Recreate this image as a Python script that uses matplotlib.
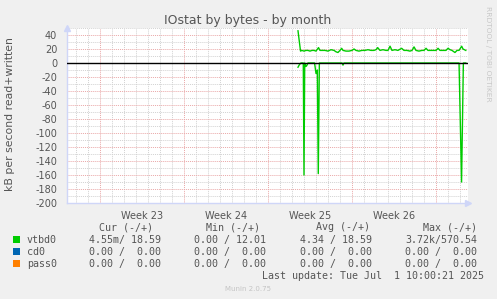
import numpy as np
import matplotlib
matplotlib.use("Agg")
import matplotlib.pyplot as plt
from matplotlib.patches import Rectangle

# data: x in days from left edge of the month window
week_starts = [2.75, 9.75, 16.75, 23.75, 30.75]
week_labels = ["Week 23", "Week 24", "Week 25", "Week 26"]

written_x = [19.25, 19.38, 19.46, 19.58, 19.75, 19.92, 20.08, 20.25, 20.42, 20.58,
             20.75, 20.96, 21.08, 21.25, 21.5, 21.75, 22.0, 22.25, 22.42, 22.58,
             22.75, 22.89, 23.0, 23.25, 23.5, 23.75, 23.92, 24.08, 24.33, 24.58,
             24.83, 25.08, 25.33, 25.58, 25.75, 25.89, 26.08, 26.33, 26.58, 26.75,
             26.92, 27.08, 27.33, 27.58, 27.89, 28.08, 28.33, 28.58, 28.75, 28.92,
             29.08, 29.33, 29.58, 29.75, 29.92, 30.08, 30.33, 30.58, 30.75, 30.92,
             31.08, 31.33, 31.58, 31.75, 31.92, 32.08, 32.33, 32.5, 32.67, 32.89,
             33.0, 33.23]
written_y = [46, 28, 17, 18, 17, 18, 18, 17, 18, 18,
             17, 22, 18, 18, 18, 17, 19, 18, 16, 15,
             18, 21, 18, 17, 17, 18, 20, 18, 17, 18,
             18, 19, 18, 18, 19, 22, 18, 19, 18, 18,
             24, 18, 19, 18, 21, 18, 18, 17, 18, 23,
             18, 17, 18, 18, 21, 18, 18, 18, 18, 21,
             18, 18, 18, 21, 19, 18, 15, 18, 18, 24,
             20, 18]

read_x = [19.25, 19.38, 19.5, 19.69, 19.75, 19.81, 19.89, 19.97, 20.08, 20.63,
          20.75, 20.86, 20.94, 21.03, 22.92, 23.0, 23.08, 32.67, 32.88, 33.03, 33.23]
read_y = [-6, -2, 0, 0, -160, 0, -5, -4, 0, 0,
          -15, -10, -158, 0, 0, -3, 0, 0, -170, 0, 0]

legend_names = ["vtbd0", "cd0", "pass0"]
legend_colors = ["#00CC00", "#0066B3", "#FF8000"]
cur_vals = ["4.55m/ 18.59", "0.00 /  0.00", "0.00 /  0.00"]
min_vals = ["0.00 / 12.01", "0.00 /  0.00", "0.00 /  0.00"]
avg_vals = ["4.34 / 18.59", "0.00 /  0.00", "0.00 /  0.00"]
max_vals = ["3.72k/570.54", "0.00 /  0.00", "0.00 /  0.00"]

W, H = 497, 299
fig = plt.figure(figsize=(W / 100, H / 100), dpi=100, facecolor="#F0F0F0")


def fx(x):
    return x / W


def fy(y):
    return 1 - y / H


# plot canvas 67..468 x, 28..203 y (pixels)
ax = fig.add_axes([fx(67), fy(203), (468 - 67) / W, (203 - 28) / H])
ax.set_facecolor("white")
ax.set_xlim(0, 401 / 12)
ax.set_ylim(-200, 50)

# grid
minor_col = "#d2d2d2"
major_col = "#eaa8a8"
dot = (0, (1, 1))
for v in np.arange(-190, 51, 10):
    if v % 20 != 0:
        ax.axhline(v, color=minor_col, lw=0.7, ls=dot, zorder=0)
for d in np.arange(0.75, 401 / 12, 1.0):
    if not any(abs(d - w) < 0.01 for w in week_starts):
        ax.axvline(d, color=minor_col, lw=0.7, ls=dot, zorder=0)
for v in np.arange(-200, 41, 20):
    ax.axhline(v, color=major_col, lw=0.7, ls=dot, zorder=1)
for w in week_starts:
    ax.axvline(w, color=major_col, lw=0.7, ls=dot, zorder=1)

# data
ax.plot(written_x, written_y, color="#00CC00", lw=1.0, zorder=3)
ax.plot(read_x, read_y, color="#00CC00", lw=1.0, zorder=3)
ax.axhline(0, color="black", lw=1.0, zorder=4)

# axes look
for s in ["top", "right"]:
    ax.spines[s].set_visible(False)
for s in ["left", "bottom"]:
    ax.spines[s].set_color("#CFD6F8")
    ax.spines[s].set_linewidth(1.0)
ax.set_yticks(np.arange(-200, 41, 20))
ax.set_yticklabels([str(v) for v in range(-200, 41, 20)])
ax.set_xticks([(week_starts[i] + week_starts[i + 1]) / 2 for i in range(4)])
ax.set_xticklabels(week_labels)
ax.tick_params(length=0, labelsize=7, colors="#555555", pad=6)
ax.tick_params(axis="x", pad=6)
ax.tick_params(axis="y", pad=7)

# arrows
ax.plot([0], [1.0], marker="^", ms=5, color="#CFD6F8", transform=ax.transAxes,
        clip_on=False, zorder=5)
ax.plot([1.0], [0], marker=">", ms=5, color="#CFD6F8", transform=ax.transAxes,
        clip_on=False, zorder=5)

txt = "#555555"
fig.text(fx(248), fy(24), "IOstat by bytes - by month", ha="center", va="baseline",
         fontsize=9, color=txt)
fig.text(fx(10.5), fy(114.5), "kB per second read+written", rotation=90,
         ha="center", va="center", fontsize=7.8, color=txt)
fig.text(fx(488), fy(53.5), "RRDTOOL / TOBI OETIKER", rotation=270,
         ha="center", va="center", fontsize=5.4, color="#c8c8c8")

mono = "DejaVu Sans Mono"
ms = 7.2
fig.text(fx(99), fy(230.5), "Cur (-/+)", family=mono, fontsize=ms, color=txt, va="baseline")
fig.text(fx(206.5), fy(230.5), "Min (-/+)", family=mono, fontsize=ms, color=txt, va="baseline")
fig.text(fx(316), fy(230.5), "Avg (-/+)", family=mono, fontsize=ms, color=txt, va="baseline")
fig.text(fx(423), fy(230.5), "Max (-/+)", family=mono, fontsize=ms, color=txt, va="baseline")

row_base = [242.7, 254.7, 266.7]
for i, name in enumerate(legend_names):
    yb = row_base[i]
    fig.patches.append(Rectangle((fx(13), fy(yb)), 7 / W, 7 / H, transform=fig.transFigure,
                                 facecolor=legend_colors[i], edgecolor="none"))
    fig.text(fx(27), fy(yb), name, family=mono, fontsize=ms, color=txt, va="baseline")
    fig.text(fx(89.3), fy(yb), cur_vals[i], family=mono, fontsize=ms, color=txt, va="baseline")
    fig.text(fx(194.3), fy(yb), min_vals[i], family=mono, fontsize=ms, color=txt, va="baseline")
    fig.text(fx(300), fy(yb), avg_vals[i], family=mono, fontsize=ms, color=txt, va="baseline")
    fig.text(fx(405), fy(yb), max_vals[i], family=mono, fontsize=ms, color=txt, va="baseline")

fig.text(fx(483.5), fy(279), "Last update: Tue Jul  1 10:00:21 2025", family=mono,
         fontsize=ms, color=txt, ha="right", va="baseline")
fig.text(fx(248), fy(290.7), "Munin 2.0.75", fontsize=5, color="#c4c4c4",
         ha="center", va="baseline")

fig.savefig("out.png", dpi=100, facecolor=fig.get_facecolor())
